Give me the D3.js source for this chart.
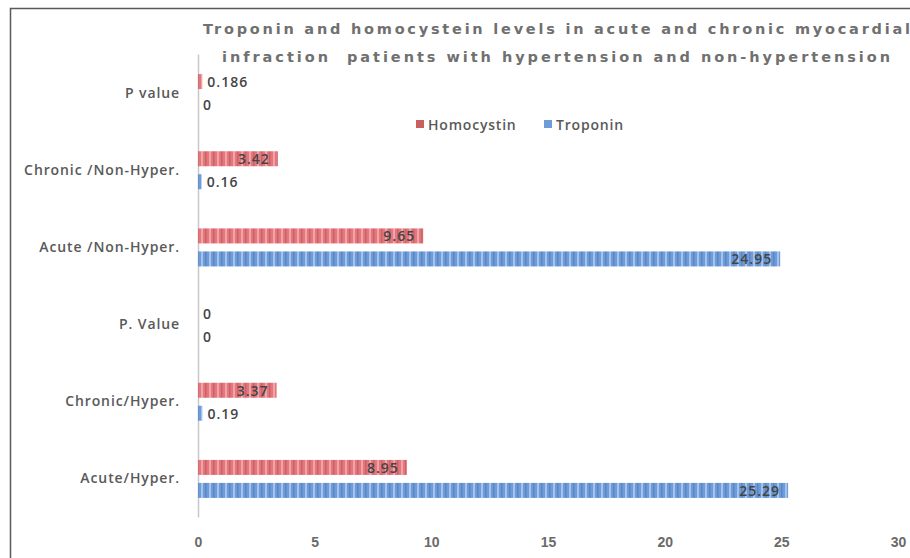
<!DOCTYPE html>
<html><head><meta charset="utf-8">
<script src="https://cdn.jsdelivr.net/npm/d3@7"></script>
<style>body{margin:0;background:#fff}svg{display:block}</style>
</head><body>
<svg id="c" width="910" height="558"></svg>
<script>
const categories = ["P value","Chronic /Non-Hyper.","Acute /Non-Hyper.","P. Value","Chronic/Hyper.","Acute/Hyper."];
const homocystin = [0.186, 3.42, 9.65, 0, 3.37, 8.95];
const troponin = [0, 0.16, 24.95, 0, 0.19, 25.29];
const homocystinLabels = ["0.186","3.42","9.65","0","3.37","8.95"];
const troponinLabels = ["0","0.16","24.95","0","0.19","25.29"];
const xTicks = [0,5,10,15,20,25,30];
const titleLines = ["Troponin and homocystein levels in acute and chronic myocardial","infraction  patients with hypertension and non-hypertension"];
const seriesNames = ["Homocystin","Troponin"];

const svg = d3.select("#c");
const defs = svg.append("defs");
function stripe(id, base, light, dark){
  const p = defs.append("pattern").attr("id",id).attr("patternUnits","userSpaceOnUse").attr("width",8).attr("height",20);
  p.append("rect").attr("width",8).attr("height",20).attr("fill",base);
  p.append("rect").attr("x",1).attr("width",2).attr("height",20).attr("fill",light);
  p.append("rect").attr("x",5).attr("width",1.5).attr("height",20).attr("fill",dark);
}
stripe("pr","#e2787d","#f2a3a7","#cc6266");
stripe("pb","#6f9cd8","#a3c3ec","#5a86c4");

// border
svg.append("path").attr("d","M10.5,558 V8.5 H910").attr("fill","none").attr("stroke","#5a5a5a").attr("stroke-width",1.5);

const x = d3.scaleLinear().domain([0,30]).range([198,898]);
const y = d3.scaleBand().domain(categories).range([54.5,517.5]);

// title
const t = svg.append("g").attr("fill","#707070").attr("font-family","DejaVu Sans, sans-serif").attr("font-weight","bold").attr("font-size",14.5);
t.append("text").attr("x",203).attr("y",34).attr("textLength",707).attr("lengthAdjust","spacing").text(titleLines[0]);
t.append("text").attr("x",222).attr("y",62).attr("textLength",668).attr("lengthAdjust","spacing").style("white-space","pre").text(titleLines[1]);

// y axis line
svg.append("line").attr("x1",198.5).attr("x2",198.5).attr("y1",y.range()[0]).attr("y2",y.range()[1]).attr("stroke","#c8c8c8").attr("stroke-width",1.5);

// category labels
const yAxis = d3.axisLeft(y).tickSize(0).tickPadding(18);
const ya = svg.append("g").attr("transform","translate(198,0)").call(yAxis);
ya.select(".domain").remove();
ya.selectAll("text").attr("font-family","Open Sans, sans-serif").attr("font-size",14).attr("letter-spacing",0.9).attr("font-weight",600).attr("fill","#595959");

// x ticks
const xAxis = d3.axisBottom(x).tickValues(xTicks).tickSize(0).tickPadding(0);
const xa = svg.append("g").attr("transform","translate(0,537)").call(xAxis);
xa.select(".domain").remove();
xa.selectAll("text").attr("font-family","Liberation Sans Narrow, Liberation Sans, sans-serif").attr("font-size",14).attr("font-weight","bold").attr("fill","#6a6a6a");

const bh = 15;
const rows = categories.map((c,i)=>({c,h:homocystin[i],t:troponin[i],hl:homocystinLabels[i],tl:troponinLabels[i]}));
const cy = c => y(c)+y.bandwidth()/2;

function drawSeries(key, lab, off, fill){
  svg.append("g").selectAll("rect").data(rows).join("rect")
    .attr("x",x(0)).attr("y",d=>cy(d.c)+off).attr("height",bh)
    .attr("width",d=>Math.max(0,x(d[key])-x(0))).attr("fill",fill);
  svg.append("g").selectAll("text").data(rows).join("text")
    .attr("font-family","Open Sans, sans-serif").attr("font-size",14).attr("letter-spacing",1)
    .attr("font-weight",600).attr("fill","#454545")
    .attr("dominant-baseline","central")
    .attr("y",d=>cy(d.c)+off+bh/2)
    .attr("x",d=>d[key]>2 ? x(d[key])-8 : x(d[key])+5)
    .attr("text-anchor",d=>d[key]>2?"end":"start")
    .text(d=>d[lab]);
}
drawSeries("h","hl",-19,"url(#pr)");
drawSeries("t","tl",4,"url(#pb)");

// legend
const lg = svg.append("g").attr("font-family","Open Sans, sans-serif").attr("font-size",14).attr("letter-spacing",0.8).attr("font-weight",600).attr("fill","#595959");
const lx = [416, 544];
const lc = ["#c9605f","#6f9cd8"];
seriesNames.forEach((n,i)=>{
  lg.append("rect").attr("x",lx[i]).attr("y",120).attr("width",8).attr("height",8).attr("fill",lc[i]);
  lg.append("text").attr("x",lx[i]+12).attr("y",124.5).attr("dominant-baseline","central").text(n);
});
</script>
</body></html>
